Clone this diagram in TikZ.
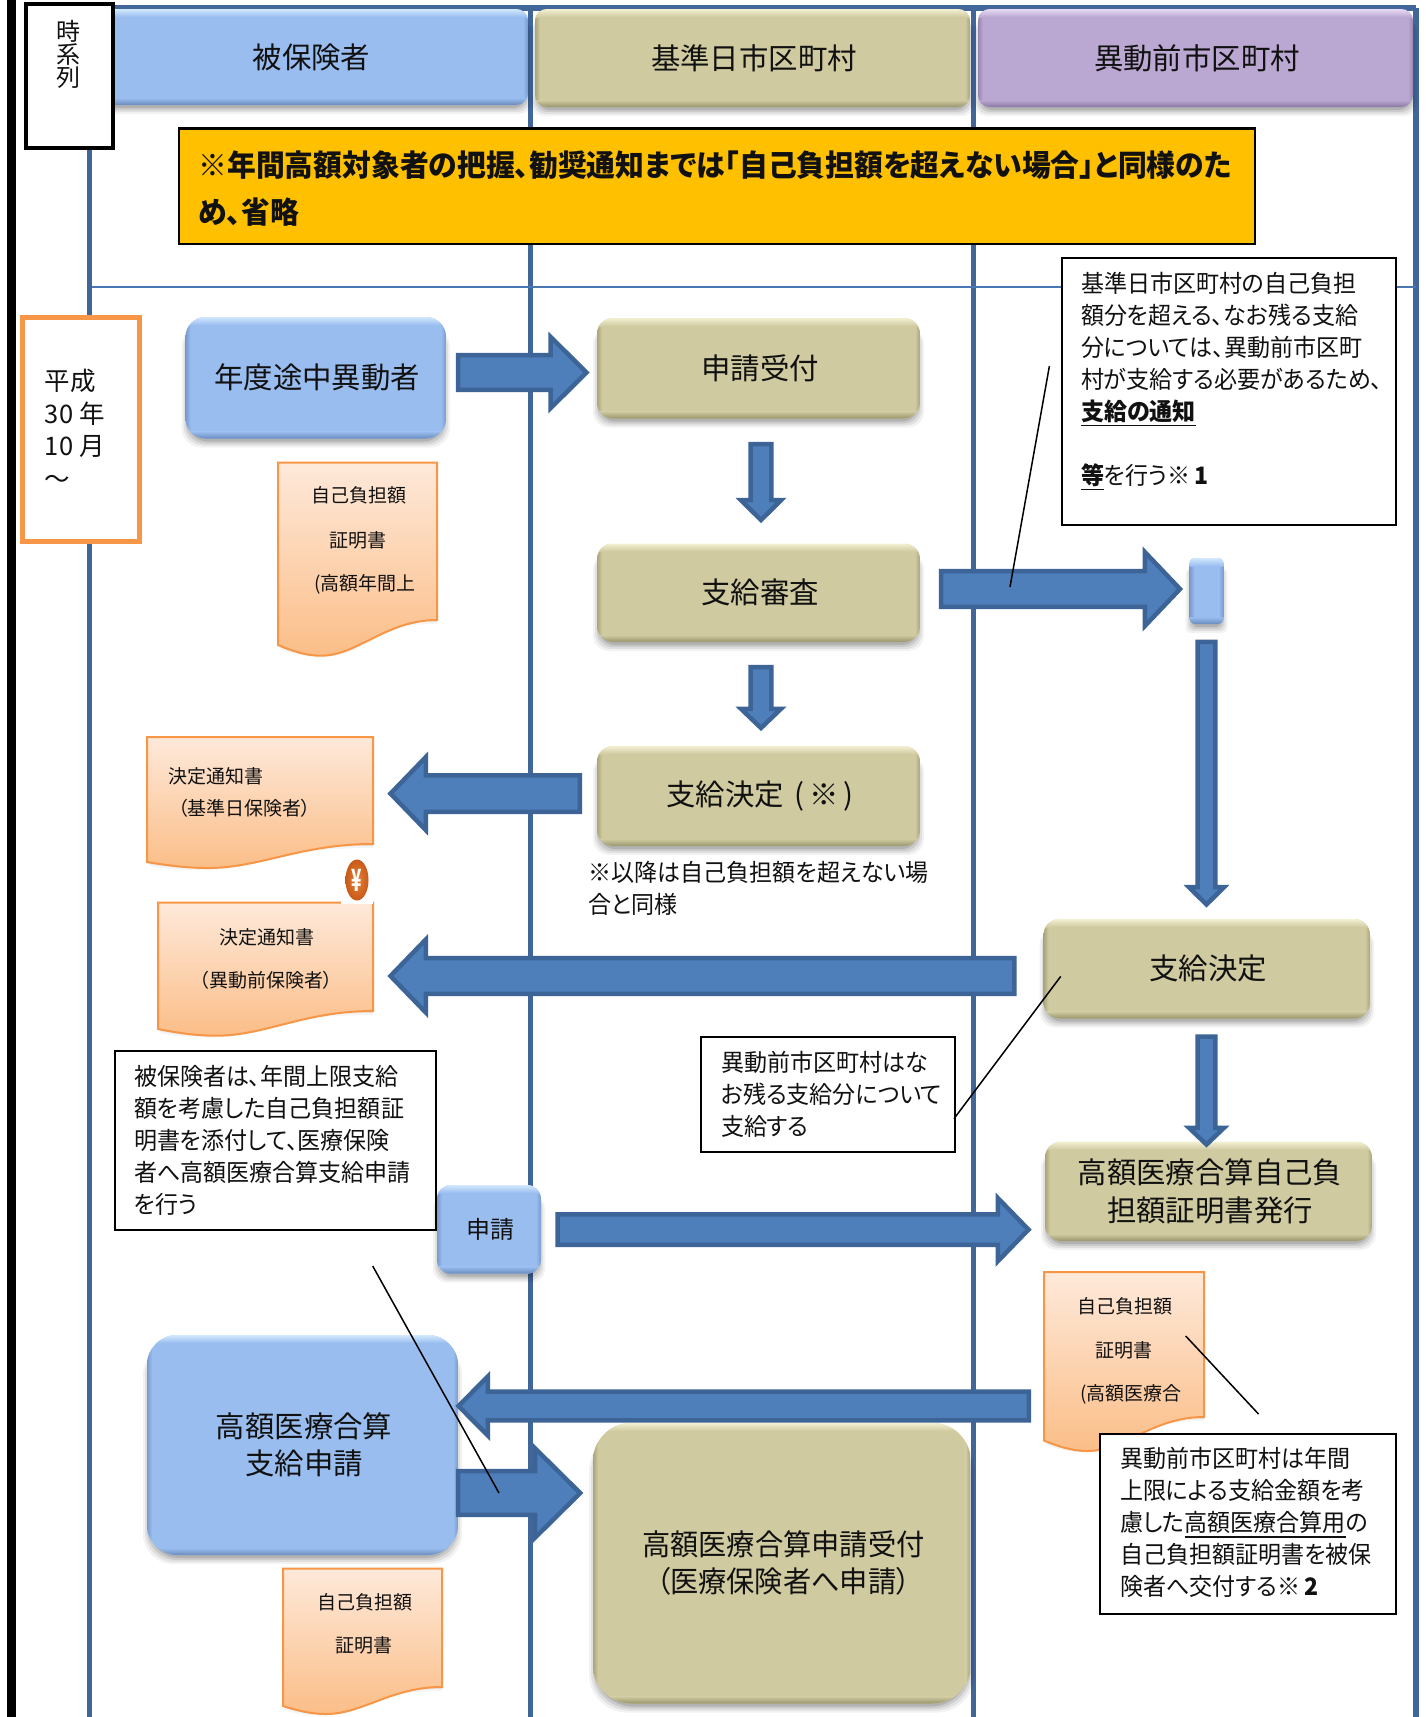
\documentclass[tikz,border=0pt]{standalone}
\usepackage{fontspec}
\setmainfont{Noto Sans CJK JP}[RawFeature={+palt}]
\newfontfamily\jpn{Noto Sans CJK JP}[RawFeature={+palt},FakeStretch=0.96]
\usetikzlibrary{shapes.geometric}
\definecolor{frameC}{HTML}{41669A}
\definecolor{thinC}{HTML}{4A76B3}
\definecolor{arrowF}{HTML}{4E7FBB}
\definecolor{arrowD}{HTML}{3D6496}
\definecolor{blueM}{HTML}{9ABDF0}
\definecolor{blueL}{HTML}{D2E9FD}
\definecolor{blueD}{HTML}{6A8BBD}
\definecolor{beigeM}{HTML}{CFCAA0}
\definecolor{beigeL}{HTML}{F3F0D2}
\definecolor{beigeD}{HTML}{99956C}
\definecolor{purpleM}{HTML}{BBA8D2}
\definecolor{purpleL}{HTML}{E8DBF7}
\definecolor{purpleD}{HTML}{8A78A3}
\definecolor{docB}{HTML}{F79646}
\definecolor{docT}{HTML}{FEE9DA}
\definecolor{docE}{HTML}{FBBE88}
\definecolor{goldF}{HTML}{FFC000}
\definecolor{inkC}{HTML}{111111}
\definecolor{coinI}{HTML}{E8823A}
\definecolor{coinO}{HTML}{C85A17}
\newcommand\fs[2]{\fontsize{#1}{#2}\selectfont}
\newcommand\ulx[1]{\setbox0\hbox{#1}\rlap{\rule[-6pt]{\wd0}{1.7pt}}\box0}
\tikzset{
  x=1pt,y=-1pt,
  every node/.style={inner sep=0pt,outer sep=0pt,text=inkC},
  frameline/.style={draw=frameC,line width=5.5pt},
  blockarrow/.style={fill=arrowF,draw=arrowD,line width=4.5pt,line join=miter},
  leader/.style={draw=black,line width=1.5pt},
  notebox/.style={draw=black,line width=2pt,fill=white},
  notetext/.style={anchor=north west,align=left,font=\jpn\fs{24}{32}},
  doctext/.style={font=\fs{19}{24}},
  beveltext/.style={align=center,font=\fs{29.4}{37},xshift=1.5pt},
}
% bevelled box: name,x1,y1,x2,y2,radius,colour set,text
\newcommand\bev[8]{%
  \foreach \s/\o in {6/.05,4/.07,2/.09,0/.12}{%
    \fill[black,opacity=\o,rounded corners=#6] ({#2+2-\s},{#3+10}) rectangle ({#4-2+\s},{#5+3+\s});}
  \begin{scope}
    \path[clip,rounded corners=#6] (#2,#3) rectangle (#4,#5);
    \fill[#7M] (#2,#3) rectangle (#4,#5);
    \shade[left color=#7D!70!#7M,right color=#7M] (#2,#3) rectangle ({#2+5},#5);
    \shade[left color=#7M,right color=#7D!70!#7M] ({#4-5},#3) rectangle (#4,#5);
    \shade[top color=#7L,bottom color=#7M] (#2,#3) rectangle (#4,{#3+8});
    \shade[top color=#7M,bottom color=#7D] (#2,{#5-7}) rectangle (#4,#5);
  \end{scope}
  \pgfmathsetmacro\bw{#4-#2}\pgfmathsetmacro\bh{#5-#3}%
  \node[beveltext,minimum width=\bw pt,minimum height=\bh pt] (#1) at ({(#2+#4)/2},{(#3+#5)/2}) {#8};}
% document shape: x1,y1,x2,yright,yleft,ybottom
\newcommand\docshape[6]{%
  \pgfmathsetmacro\dw{#3-#1}%
  \foreach \s/\o in {4/.04,2/.06}{%
    \fill[black,opacity=\o] ({#1+2},{#5}) -- ({#1+2},{#5+\s}) .. controls ({#1+.15*\dw},{#6+\s}) and ({#1+.4*\dw},{#6+\s}) .. ({#1+.5*\dw},{#6-12+\s}) .. controls ({#1+.62*\dw},{#4+\s+4}) and ({#1+.8*\dw},{#4+\s}) .. ({#3},{#4+\s}) -- ({#3},{#4}) -- cycle;}
  \shade[top color=docT,bottom color=docE,draw=docB,line width=2pt]
    (#1,#2) -- (#3,#2) -- (#3,#4)
    .. controls ({#1+.68*\dw},{#4}) and ({#1+.5*\dw},{#6}) .. ({#1+.27*\dw},{#6})
    .. controls ({#1+.17*\dw},{#6}) and ({#1+.08*\dw},{#5+.5*(#6-#5)}) .. (#1,#5) -- cycle;}
% horizontal block arrow: name,tail,base,tip,yc,halfbody,halfhead (outer sizes)
\newcommand\harrow[7]{%
  \pgfmathsetmacro\sg{(#4>#2)?1:-1}%
  \pgfmathsetmacro\ta{#2+2.2*\sg}\pgfmathsetmacro\ba{#3+2.2*\sg}\pgfmathsetmacro\ti{#4-2.5*\sg}%
  \pgfmathsetmacro\hb{#6-2.2}\pgfmathsetmacro\hh{#7-5}%
  \coordinate (#1-a) at (\ta,#5); \coordinate (#1-b) at (\ti,#5);
  \draw[blockarrow] (\ta,{#5-\hb}) -- (\ba,{#5-\hb}) -- (\ba,{#5-\hh}) -- (#1-b) -- (\ba,{#5+\hh}) -- (\ba,{#5+\hb}) -- (\ta,{#5+\hb}) -- cycle;}
% vertical block arrow: name,tail,base,tip,xc,halfbody,halfhead
\newcommand\varrow[7]{%
  \pgfmathsetmacro\ta{#2+2.2}\pgfmathsetmacro\ba{#3+2.2}\pgfmathsetmacro\ti{#4-3}%
  \pgfmathsetmacro\hb{#6-2.2}\pgfmathsetmacro\hh{#7-5}%
  \coordinate (#1-a) at (#5,\ta); \coordinate (#1-b) at (#5,\ti);
  \draw[blockarrow] ({#5-\hb},\ta) -- ({#5-\hb},\ba) -- ({#5-\hh},\ba) -- (#1-b) -- ({#5+\hh},\ba) -- ({#5+\hb},\ba) -- ({#5+\hb},\ta) -- cycle;}
% note box: name,x1,y1,x2,y2
\newcommand\nbox[5]{%
  \pgfmathsetmacro\bw{#4-#2}\pgfmathsetmacro\bh{#5-#3}%
  \node[notebox,minimum width=\bw pt,minimum height=\bh pt] (#1) at ({(#2+#4)/2},{(#3+#5)/2}) {};}
\begin{document}
\begin{tikzpicture}
\useasboundingbox (0,0) rectangle (1426,1717);
\fill[white] (0,0) rectangle (1426,1717);
% frame
\coordinate (railT) at (11.5,0); \coordinate (railB) at (11.5,1717);
\draw[black,line width=9pt] (railT) -- (railB);
\coordinate (ftl) at (89.5,8); \coordinate (fbl) at (89.5,1717);
\coordinate (ftm1) at (530.5,8); \coordinate (fbm1) at (530.5,1717);
\coordinate (ftm2) at (973.5,8); \coordinate (fbm2) at (973.5,1717);
\coordinate (ftr) at (1416,8); \coordinate (fbr) at (1416,1717);
\draw[frameline] (ftl) -- (fbl);
\draw[frameline] (ftm1) -- (fbm1);
\draw[frameline] (ftm2) -- (fbm2);
\draw[frameline] (ftr) -- (fbr);
\draw[frameline] (ftl) -- (ftr);
\coordinate (thinL) at (92,287); \coordinate (thinR) at (1416,287);
\draw[thinC,line width=1.6pt] (thinL) -- (thinR);
% headers
\bev{h1}{92}{9}{528}{105}{12}{blue}{被保険者}
\bev{h2}{535}{9}{970}{107}{12}{beige}{基準日市区町村}
\bev{h3}{978}{9}{1413}{107}{12}{purple}{異動前市区町村}
\node[draw=black,line width=4.5pt,fill=white,minimum width=87pt,minimum height=144pt] (timebox) at (69.5,76) {};
\node[anchor=north,align=center,font=\fs{24}{23}] (timetext) at (68,20) {時\\系\\列};
% gold banner
\node[draw=black,line width=2.5pt,fill=goldF,minimum width=1076pt,minimum height=115.5pt] (gold) at (717,186) {};
\node[anchor=north west,align=left,font=\jpn\fs{30}{47}\bfseries] (goldtext) at (198.5,150.5) {※年間高額対象者の把握、勧奨通知までは「自己負担額を超えない場合」と同様のた\\め、省略};
% period
\node[draw=docB,line width=5pt,fill=white,minimum width=117pt,minimum height=224pt] (period) at (81.2,429.2) {};
\node[anchor=north west,align=left,font=\fs{25.5}{32.4}] (periodtext) at (45,369.5) {平成\\30 年\\10 月\\～};
% row 1
\bev{moved}{185.5}{317}{446}{438.5}{20}{blue}{\raisebox{-1pt}{年度途中異動者}}
\bev{recv}{597}{318}{920}{418.5}{16}{beige}{申請受付}
\harrow{a1}{456}{548.5}{589}{372.5}{19.5}{40.5}
\varrow{d1}{442}{498}{523}{761}{12.5}{25}
% doc 1
\docshape{278}{462.5}{437}{620}{645}{655.7}
\node[doctext] (doc1a) at (359,495.7) {自己負担額};
\node[doctext] (doc1b) at (358,540) {証明書};
\node[doctext] (doc1c) at (365,584) {(高額年間上};
% row 2
\bev{exam}{597}{543.5}{920}{642}{16}{beige}{支給審査}
\harrow{a2}{939}{1142.6}{1182.5}{589}{20}{42}
\bev{tiny}{1189.5}{558}{1223.5}{624}{6}{blue}{}
\varrow{d2}{665}{706.6}{731}{761}{12.5}{25}
\varrow{d3}{639.6}{885}{907.5}{1206.5}{11}{22.5}
% row 3
\bev{dec1}{597}{746}{920}{846}{16}{beige}{\raisebox{-1.5pt}{支給決定\hspace{10pt}(\hspace{5pt}※\hspace{5pt})}}
\harrow{a3}{582}{428}{388}{793.6}{20.5}{41.5}
\docshape{147}{737}{373}{844}{862}{868}
\node[anchor=west,doctext] (doc2a) at (168,776) {決定通知書};
\node[anchor=west,doctext] (doc2b) at (178,808) {（基準日保険者）};
\node[anchor=north west,align=left,font=\jpn\fs{24}{32}] (afternote) at (588.6,861) {※以降は自己負担額を超えない場\\合と同様};
% doc 3 with coin
\docshape{158}{902.5}{373}{1011}{1029}{1035.7}
\node[doctext] (doc3a) at (267,937) {決定通知書};
\node[doctext] (doc3b) at (266,980) {（異動前保険者）};
\node[fill=white,minimum width=32pt,minimum height=44pt] (coinbg) at (357,882) {};
\node[ellipse,inner color=coinI,outer color=coinO,minimum width=23pt,minimum height=41pt,text=white,font=\fs{17}{20}\bfseries] (coin) at (357,880) {\scalebox{1}[1.8]{¥}};
\harrow{a4}{1016.6}{428}{388}{976}{20}{41.5}
% right decision
\bev{dec2}{1043.5}{919}{1370}{1018.5}{16}{beige}{支給決定}
\bev{cert}{1045}{1141.7}{1372}{1241}{16}{beige}{\raisebox{-2pt}{高額医療合算自己負}\\\raisebox{-3pt}{担額証明書発行}}
\varrow{d4}{1034.5}{1125.6}{1147.5}{1206.5}{11}{22.5}
% note: moved municipality
\nbox{n2}{701}{1037}{955}{1152}
\node[notetext] (n2t) at (721,1051) {異動前市区町村はな\\お残る支給分について\\支給する};
\coordinate (l2a) at (1060.7,976.4); \coordinate (l2b) at (954,1118.7);
\draw[leader] (l2a) -- (l2b);
% note: insured
\nbox{n3}{114.5}{1050.6}{436.4}{1230}
\node[notetext] (n3t) at (134,1065) {被保険者は、年間上限支給\\額を考慮した自己負担額証\\明書を添付して、医療保険\\者へ高額医療合算支給申請\\を行う};
\bev{apply}{437}{1185}{541}{1273.7}{14}{blue}{\fs{24}{30}\raisebox{-2pt}{申請}}
\harrow{a5}{555.5}{995.7}{1031}{1229.6}{17.5}{36.5}
% bottom left
\bev{happly}{147}{1335}{458}{1555}{30}{blue}{高額医療合算\\支給申請}
\harrow{a6}{1031}{490}{456}{1406}{16.5}{34.5}
\harrow{a7}{456}{533}{582.7}{1493}{24}{49.5}
\docshape{283}{1568.5}{442}{1687}{1706}{1714}
\node[doctext] (doc5a) at (365,1602) {自己負担額};
\node[doctext] (doc5b) at (363.6,1645.6) {証明書};
\bev{hrecv}{593}{1423}{970.7}{1703.5}{38}{beige}{{\jpn 高額医療合算申請受付}\\{\jpn （医療保険者へ申請）}}
% doc 4
\docshape{1044}{1272}{1204}{1417}{1440.6}{1451}
\node[doctext] (doc4a) at (1125,1306.7) {自己負担額};
\node[doctext] (doc4b) at (1124,1350) {証明書};
\node[doctext] (doc4c) at (1131,1394) {(高額医療合};
\coordinate (l4a) at (1185.7,1336); \coordinate (l4b) at (1258.5,1414);
\draw[leader] (l4a) -- (l4b);
\nbox{n4}{1100}{1434}{1395.7}{1613.6}
\node[notetext] (n4t) at (1120,1447.5) {異動前市区町村は年間\\上限による支給金額を考\\慮した\ulx{高額医療合算用}の\\自己負担額証明書を被保\\険者へ交付する※\,\textbf{2}};
% top right note
\nbox{n1}{1061.6}{258}{1395.7}{525.4}
\node[notetext] (n1t) at (1081,272) {基準日市区町村の自己負担\\額分を超える、なお残る支給\\分については、異動前市区町\\村が支給する必要があるため、\\\ulx{\textbf{支給の通知}}\\[32pt]\ulx{\textbf{等}}を行う※\,\textbf{1}};
\coordinate (l1a) at (1049.4,366); \coordinate (l1b) at (1010,587);
\draw[leader] (l1a) -- (l1b);
% long leader
\coordinate (l3a) at (372.7,1266); \coordinate (l3b) at (499,1493);
\draw[leader] (l3a) -- (l3b);
\end{tikzpicture}
\end{document}
